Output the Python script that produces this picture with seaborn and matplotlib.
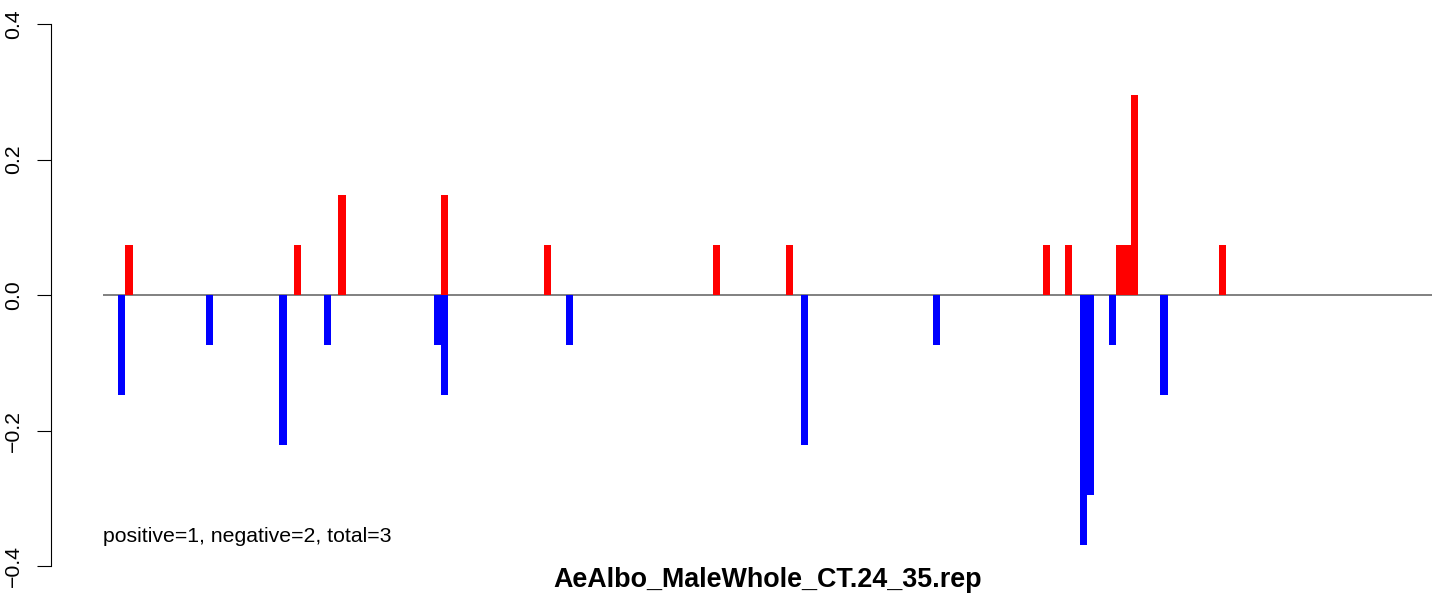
import matplotlib
matplotlib.use("Agg")
import matplotlib.pyplot as plt
import seaborn as sns
import pandas as pd

# bin index along the track and score per bin
pos_bins = [1, 24, 30, 44, 58, 81, 91, 126, 129, 136, 137, 138, 150]
pos_vals = [0.0738, 0.0738, 0.1476, 0.1476, 0.0738, 0.0738, 0.0738,
            0.0738, 0.0738, 0.0738, 0.0738, 0.2952, 0.0738]
neg_bins = [0, 12, 22, 28, 43, 44, 61, 93, 111, 131, 132, 135, 142]
neg_vals = [-0.1476, -0.0738, -0.2214, -0.0738, -0.0738, -0.1476, -0.0738,
            -0.2214, -0.0738, -0.369, -0.2952, -0.0738, -0.1476]
n_bins = 151
y_ticks = [-0.4, -0.2, 0.0, 0.2, 0.4]
title = "AeAlbo_MaleWhole_CT.24_35.rep"
note = "positive=1, negative=2, total=3"

sns.set_theme(style="white", rc={"text.color": "black", "ytick.color": "black",
                                 "axes.edgecolor": "black"})
plt.rcParams['font.family'] = ['Liberation Sans', 'DejaVu Sans']

bins = pd.RangeIndex(n_bins, name="bin")
df = pd.DataFrame({
    "pos": pd.Series(pos_vals, index=pos_bins).reindex(bins, fill_value=0.0),
    "neg": pd.Series(neg_vals, index=neg_bins).reindex(bins, fill_value=0.0),
}).reset_index()

fig = plt.figure(figsize=(14.44, 5.93), dpi=100)
ax = fig.add_axes([0.07133, 0.0089, 0.92036, 0.9872])

ax.axhline(0, color="#808080", lw=1.4, zorder=1)
sns.barplot(data=df, x="bin", y="neg", color="blue", saturation=1,
            width=1, linewidth=0, errorbar=None, ax=ax, zorder=2)
sns.barplot(data=df, x="bin", y="pos", color="red", saturation=1,
            width=1, linewidth=0, errorbar=None, ax=ax, zorder=2)

# spines first: moving a spine resets the ticks
for s in ["top", "right", "bottom"]:
    ax.spines[s].set_visible(False)
ax.spines["left"].set_position(("outward", 37.4))
ax.spines["left"].set_bounds(-0.4, 0.4)
ax.spines["left"].set_color("black")
ax.spines["left"].set_linewidth(0.8)

ax.set_xlim(-2.54, 178.5)
ax.set_ylim(-0.432, 0.432)
ax.set_xticks([])
ax.set_xlabel("")
ax.set_ylabel("")
ax.set_yticks(y_ticks, [f"{t:.1f}".replace("-", "\u2212") for t in y_ticks])
ax.tick_params(axis="y", direction="out", length=10, width=0.8,
               color="black", pad=10, left=True, labelleft=True,
               labelsize=15.3, labelcolor="black", labelrotation=90)
for lab in ax.get_yticklabels():
    lab.set_verticalalignment("center")
    lab.set_horizontalalignment("right")
    lab.set_rotation_mode("default")

ax.text(0.0, -0.357, note, transform=ax.get_yaxis_transform(),
        ha="left", va="center", fontsize=15.3, color="black")
fig.text(0.5315, 0.0219, title, ha="center", va="center",
         fontsize=19.4, fontweight="bold", color="black")

fig.savefig("out.png", dpi=100, facecolor="white")
